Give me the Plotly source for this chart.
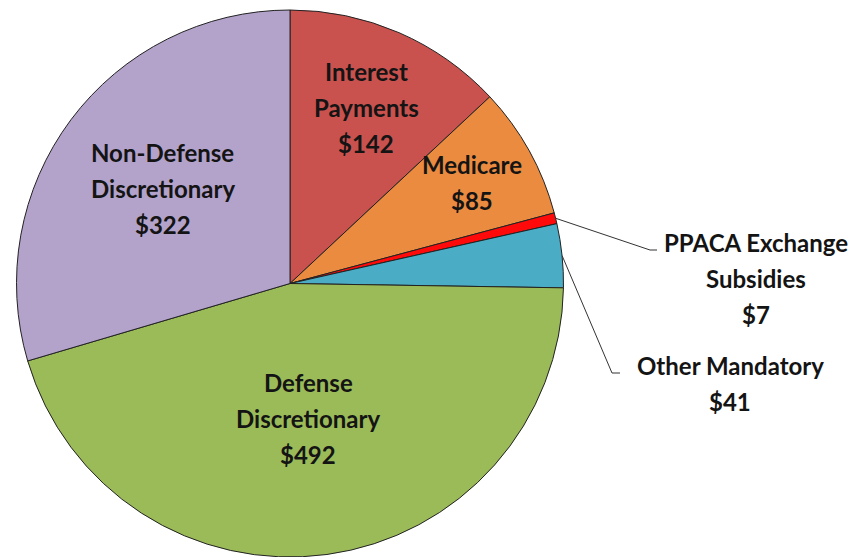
import math
import plotly.graph_objects as go

# Spending categories (billions of dollars)
categories = [
    "Interest Payments",
    "Medicare",
    "PPACA Exchange Subsidies",
    "Other Mandatory",
    "Defense Discretionary",
    "Non-Defense Discretionary",
]
values = [142, 85, 7, 41, 492, 322]
colors = ["#C9524F", "#EB8B40", "#FF0A0A", "#4BACC6", "#9BBB59", "#B3A3CB"]

# Line breaks used when writing each category's label
label_lines = [
    ["Interest", "Payments"],
    ["Medicare"],
    ["PPACA Exchange", "Subsidies"],
    ["Other Mandatory"],
    ["Defense", "Discretionary"],
    ["Non-Defense", "Discretionary"],
]

W, H = 868, 557
cx, cy, r = 290, 283.5, 273.5

# How far out (fraction of radius) each inside label sits; None = outside label
inside_frac = [0.70, 0.76, None, None, 0.50, 0.58]
# Outside label anchors (pixel centre of first line) and leader elbows
outside_pos = {2: (756, 242), 3: (730, 365)}
outside_elbow = {2: [(650, 250), (657, 250)], 3: [(612, 373), (620, 373)]}
line_gap = 36
font = dict(family="Lato", size=24, color="#141414")


def px(x):
    return x / W


def py(y):
    return 1 - y / H


# Mid-angle of each slice, clockwise from 12 o'clock
total = sum(values)
mids = []
acc = 0
for v in values:
    mids.append((acc + v / 2) / total * 2 * math.pi)
    acc += v


def polar(frac, ang):
    return cx + frac * r * math.sin(ang), cy - frac * r * math.cos(ang)


fig = go.Figure(
    go.Pie(
        labels=categories,
        values=values,
        sort=False,
        direction="clockwise",
        rotation=0,
        textinfo="none",
        hoverinfo="label+value",
        marker=dict(colors=colors, line=dict(color="#222222", width=1)),
        domain=dict(x=[px(cx - r), px(cx + r)], y=[py(cy + r), py(cy - r)]),
        showlegend=False,
    )
)

annotations = []
shapes = []
for i, (lines, val) in enumerate(zip(label_lines, values)):
    rows = lines + [f"${val}"]
    if inside_frac[i] is not None:
        mx, my = polar(inside_frac[i], mids[i])
        top = my - (len(rows) - 1) * line_gap / 2
        lx = mx
    else:
        lx, top = outside_pos[i]
        pts = [polar(1.0, mids[i])] + outside_elbow[i]
        path = "M " + " L ".join(f"{px(x)},{py(y)}" for x, y in pts)
        shapes.append(
            dict(type="path", path=path, xref="paper", yref="paper",
                 line=dict(color="#333333", width=1))
        )
    for k, t in enumerate(rows):
        annotations.append(
            dict(
                x=px(lx),
                y=py(top + k * line_gap),
                xref="paper",
                yref="paper",
                text=f"<b>{t}</b>",
                showarrow=False,
                xanchor="center",
                yanchor="middle",
                font=font,
            )
        )

fig.update_layout(
    width=W,
    height=H,
    margin=dict(l=0, r=0, t=0, b=0),
    paper_bgcolor="white",
    plot_bgcolor="white",
    annotations=annotations,
    shapes=shapes,
)

fig.write_html("out.html")
